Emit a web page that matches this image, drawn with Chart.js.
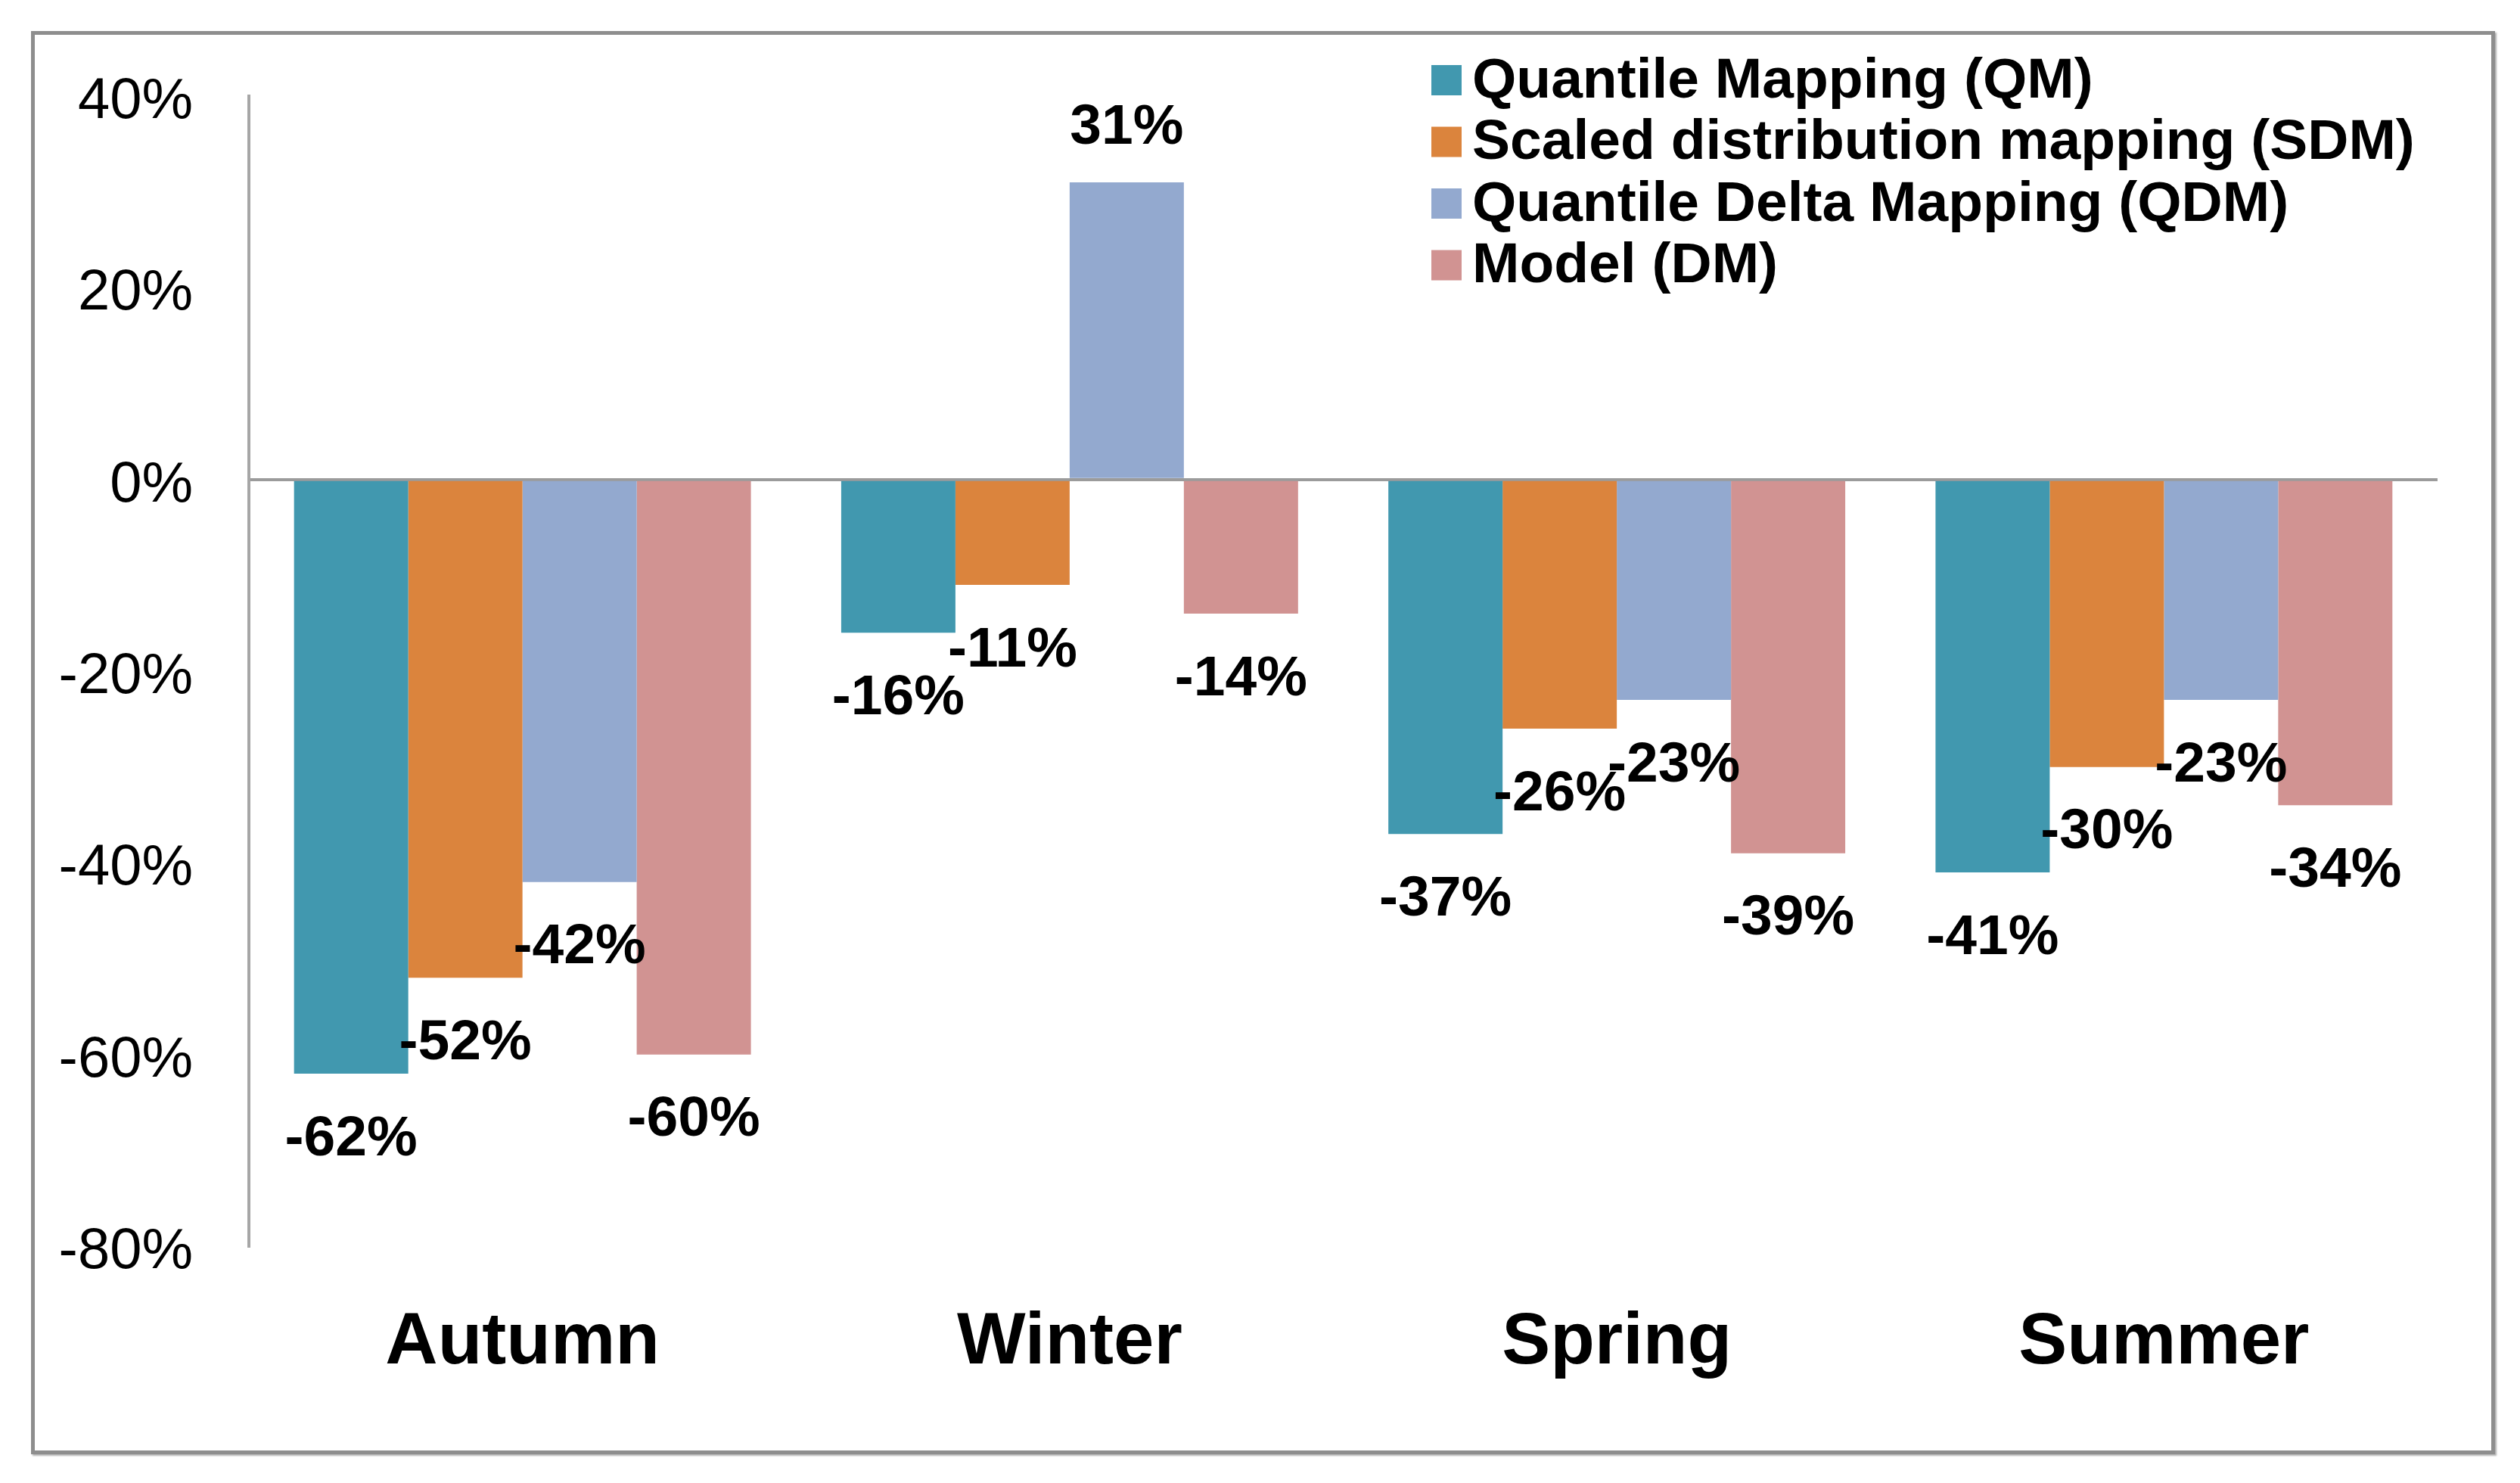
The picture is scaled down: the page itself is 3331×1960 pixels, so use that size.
<!DOCTYPE html>
<html>
<head>
<meta charset="utf-8">
<script src="https://cdn.jsdelivr.net/npm/chart.js@4.4.1/dist/chart.umd.min.js"></script>
<style>
    html, body { margin: 0; padding: 0; background: #ffffff; }
    #frame {
        position: absolute; left: 41px; top: 41px; width: 3257px; height: 1881px;
        box-sizing: border-box; border: 5px solid #8e8e8e;
        box-shadow: 2px 2px 2px #b0b0b0;
    }
    #wrap { position: absolute; left: 0; top: 0; width: 3331px; height: 1960px; }
</style>
</head>
<body>
<div id="frame"></div>
<div id="wrap"><canvas id="chart"></canvas></div>
<script>
const seasons = ['Autumn', 'Winter', 'Spring', 'Summer'];
const seriesNames = ['Quantile Mapping (QM)', 'Scaled distribution mapping (SDM)', 'Quantile Delta Mapping (QDM)', 'Model (DM)'];
const qmValues = [-62, -16, -37, -41];
const sdmValues = [-52, -11, -26, -30];
const qdmValues = [-42, 31, -23, -23];
const dmValues = [-60, -14, -39, -34];
const seriesColors = ['#4198AF', '#DB843D', '#93A9CF', '#D19392'];
const yTicks = [-80, -60, -40, -20, 0, 20, 40];

const fontFamily = 'Arial, "Liberation Sans", sans-serif';

// bar value labels, Excel style "outside end"
const valueLabels = {
    id: 'valueLabels',
    afterDatasetsDraw(chart) {
        const ctx = chart.ctx;
        ctx.save();
        ctx.font = 'bold 75px ' + fontFamily;
        ctx.fillStyle = '#000000';
        ctx.textAlign = 'center';
        ctx.textBaseline = 'middle';
        chart.data.datasets.forEach((ds, i) => {
            chart.getDatasetMeta(i).data.forEach((bar, j) => {
                const v = ds.data[j];
                const y = v < 0 ? bar.y + 87 : bar.y - 72;
                ctx.fillText(v + '%', bar.x, y);
            });
        });
        ctx.restore();
    }
};

// legend sits inside the plot, top right
const insideLegend = {
    id: 'insideLegend',
    afterDraw(chart) {
        const ctx = chart.ctx;
        ctx.save();
        ctx.font = 'bold 75px ' + fontFamily;
        ctx.textAlign = 'left';
        ctx.textBaseline = 'middle';
        chart.data.datasets.forEach((ds, i) => {
            const cy = 106 + i * 81.5;
            ctx.fillStyle = ds.backgroundColor;
            ctx.fillRect(1892, cy - 20, 40, 40);
            ctx.fillStyle = '#000000';
            ctx.fillText(ds.label, 1946, cy + 2);
        });
        ctx.restore();
    }
};

const datasets = [qmValues, sdmValues, qdmValues, dmValues].map((vals, i) => ({
    label: seriesNames[i],
    data: vals,
    backgroundColor: seriesColors[i],
    borderWidth: 0,
    barPercentage: 1.0,
    categoryPercentage: 0.835
}));

new Chart(document.getElementById('chart'), {
    type: 'bar',
    data: { labels: seasons, datasets: datasets },
    plugins: [valueLabels, insideLegend],
    options: {
        responsive: true,
        maintainAspectRatio: false,
        devicePixelRatio: 1,
        animation: false,
        layout: { padding: { left: 0, right: 109, top: 127, bottom: 0 } },
        plugins: {
            legend: { display: false },
            tooltip: { enabled: false }
        },
        scales: {
            x: {
                grid: { display: false },
                border: { display: false },
                ticks: {
                    color: '#000000',
                    padding: 63,
                    font: { family: fontFamily, size: 96, weight: 'bold' }
                },
                afterFit(scale) { scale.height = 313; }
            },
            y: {
                min: -80,
                max: 40,
                afterBuildTicks(scale) { scale.ticks = yTicks.map(v => ({ value: v })); },
                grid: {
                    drawTicks: false,
                    lineWidth: 4,
                    color: (c) => (c.tick && c.tick.value === 0) ? '#9b9b9b' : 'rgba(0,0,0,0)'
                },
                border: { display: true, color: '#a6a6a6', width: 4 },
                ticks: {
                    color: '#000000',
                    padding: 74,
                    labelOffset: 8,
                    font: { family: fontFamily, size: 76 },
                    callback: (v) => v + '%'
                },
                afterFit(scale) { scale.width = 329; }
            }
        }
    }
});
</script>
</body>
</html>
